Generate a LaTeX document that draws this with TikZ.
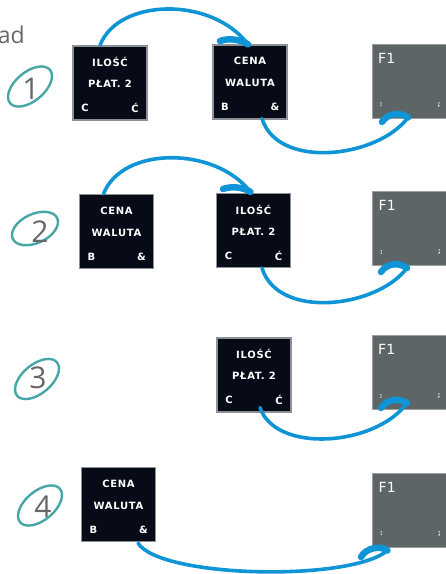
\documentclass[tikz,border=0pt]{standalone}
\usepackage{fontspec}
\setmainfont{DejaVu Sans}
\newfontfamily\keyfont{DejaVu Sans}[LetterSpace=7]
\newfontfamily\numfont{Open Sans}
\definecolor{keyblack}{HTML}{060B17}
\definecolor{keyedge}{HTML}{8C9196}
\definecolor{keygrey}{HTML}{5E6566}
\definecolor{gedge}{HTML}{9AA0A0}
\definecolor{arrblue}{HTML}{0F95D5}
\definecolor{ringteal}{HTML}{47A6A6}
\definecolor{numgrey}{HTML}{66676B}
\newcommand\blackkey[6]{%
  \node[bkey] (#1) at (#2) {};
  \node[klab] (#1-t) at ([yshift=21]#1.center) {#3};
  \node[klab] (#1-m) at ([yshift=-1]#1.center) {#4};
  \node[klab] (#1-l) at ([xshift=-25,yshift=-25]#1.center) {#5};
  \node[klab] (#1-r) at ([xshift=25,yshift=-25]#1.center) {#6};}
\newcommand\greykey[2]{%
  \node[gkey] (#1) at (#2) {};
  \node[flab] (#1-t) at ([xshift=-31,yshift=23]#1.center) {F1};
  \node[plab] (#1-l) at ([xshift=-28,yshift=-24]#1.center) {:};
  \node[plab] (#1-r) at ([xshift=30,yshift=-24]#1.center) {;};}
\begin{document}
\begin{tikzpicture}[x=1pt,y=-1pt,
  bkey/.style={draw=keyedge, fill=keyblack, line width=1.2, minimum size=74, inner sep=0},
  gkey/.style={draw=gedge, fill=keygrey, line width=1, minimum size=74, inner sep=0},
  klab/.style={text=white, font=\keyfont\bfseries\fontsize{10}{12}\selectfont, inner sep=0},
  flab/.style={text=white, anchor=west, font=\fontsize{14}{16}\selectfont, inner sep=0},
  plab/.style={text=white!80!gray, font=\bfseries\fontsize{7}{8}\selectfont, inner sep=0},
  ring/.style={draw=ringteal, line width=2.4},
  num/.style={text=numgrey, font=\numfont\fontsize{30}{32}\selectfont, inner sep=0},
  arr/.style={draw=arrblue, line width=3.6, line cap=round},
  barb/.style={draw=arrblue, line width=6.5, line cap=round}]
\useasboundingbox (0,0) rectangle (446,574);

% heading fragment
\node[text=numgrey, font=\numfont\fontsize{23}{26}\selectfont, anchor=base east, inner sep=0] (head) at (25,43) {ad};

% rings with numbers
\draw[ring, rotate around={40:(30,86.5)}] (30,86.5) ellipse [x radius=26, y radius=14.5];
\node[num] (n1) at (31,89) {1};
\draw[ring, rotate around={25:(35,228.5)}] (35,228.5) ellipse [x radius=24.5, y radius=14.5];
\node[num] (n2) at (40,232) {2};
\draw[ring, rotate around={40:(37,379)}] (37,379) ellipse [x radius=26, y radius=14.5];
\node[num] (n3) at (38,378) {3};
\draw[ring, rotate around={40:(40,505.5)}] (40,505.5) ellipse [x radius=26, y radius=14.5];
\node[num] (n4) at (43,507) {4};

% row 1
\blackkey{k1a}{110,83}{ILOŚĆ}{PŁAT. 2}{C}{Ć}
\blackkey{k1b}{250,82}{CENA}{WALUTA}{B}{\&}
\greykey{f1}{409,81}
% row 2
\blackkey{k2a}{116.5,231.5}{CENA}{WALUTA}{B}{\&}
\blackkey{k2b}{253.5,230.5}{ILOŚĆ}{PŁAT. 2}{C}{Ć}
\greykey{f2}{409.5,228.5}
% row 3
\blackkey{k3}{254,375}{ILOŚĆ}{PŁAT. 2}{C}{Ć}
\greykey{f3}{409,372.5}
% row 4
\blackkey{k4}{118.5,504.5}{CENA}{WALUTA}{B}{\&}
\greykey{f4}{409.5,510}

% arrow tips and barb ends
\coordinate (t1a) at ([xshift=-2]k1b.north);
\coordinate (b1a) at (220,41);
\coordinate (t1b) at ([xshift=-1,yshift=1]f1.south);
\coordinate (b1b) at (382,122);
\coordinate (t2a) at ([xshift=-3,yshift=1]k2b.north);
\coordinate (b2a) at (223,189);
\coordinate (t2b) at ([xshift=-2.5,yshift=-2]f2.south);
\coordinate (b2b) at (381,272);
\coordinate (t3) at ([xshift=-2,yshift=7]f3.south);
\coordinate (b3) at (381,408);
\coordinate (t4) at ([xshift=-22,yshift=-3]f4.south);
\coordinate (b4) at (361,557);

% row 1 arrows
\draw[arr] ([xshift=-10]k1a.north) .. controls (118,-2) and (212,-4) .. (t1a);
\draw[barb] (t1a) .. controls (240,39) and (228,38) .. (b1a);
\draw[arr] ([xshift=12,yshift=1]k1b.south) .. controls (278,170) and (378,158) .. (t1b);
\draw[barb] (t1b) .. controls (400,112) and (388,113) .. (b1b);
% row 2 arrows
\draw[arr] ([xshift=-13]k2a.north) .. controls (122,146) and (215,146) .. (t2a);
\draw[barb] (t2a) .. controls (243,187) and (231,186) .. (b2a);
\draw[arr] ([xshift=8.5]k2b.south) .. controls (278,320) and (377,308) .. (t2b);
\draw[barb] (t2b) .. controls (399,262) and (387,263) .. (b2b);
% row 3 arrow
\draw[arr] ([xshift=6,yshift=5]k3.south) .. controls (276,454) and (376,446) .. (t3);
\draw[barb] (t3) .. controls (399,398) and (387,399) .. (b3);
% row 4 arrow
\draw[arr] ([xshift=19.5,yshift=-1]k4.south) .. controls (160,578) and (350,582) .. (t4);
\draw[barb] (t4) .. controls (380,545) and (366,548) .. (b4);
\end{tikzpicture}
\end{document}
